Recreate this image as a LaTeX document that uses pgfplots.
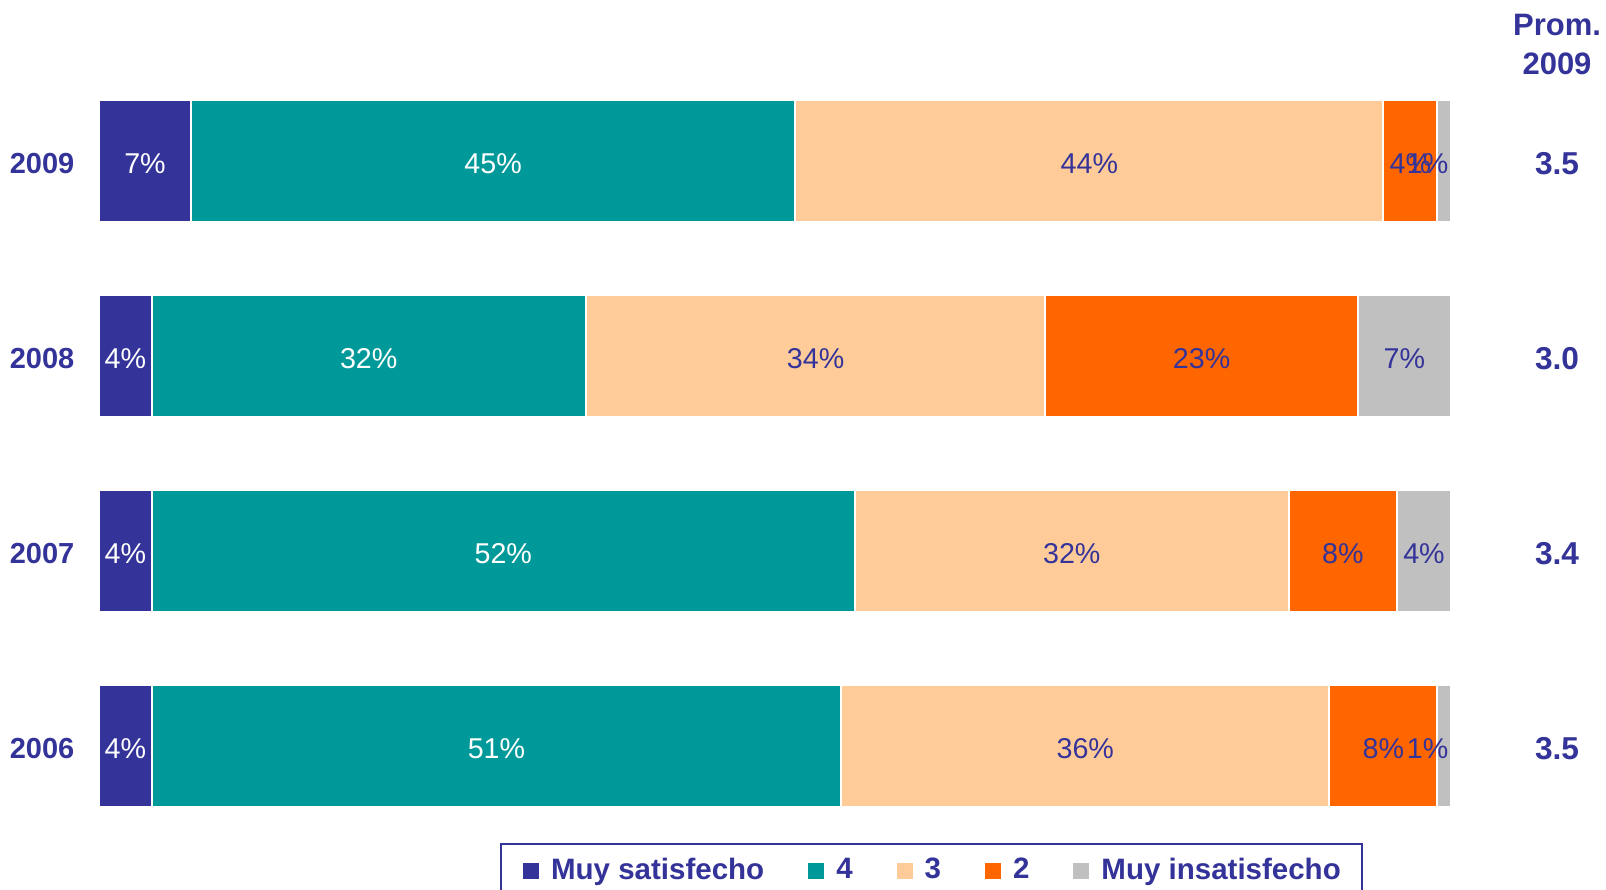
\documentclass[border=0pt]{standalone}
\usepackage{pgfplots}
\pgfplotsset{compat=1.18}
\usepackage{pgfplotstable}
\usepackage{fontspec}
\setmainfont{Liberation Sans}
\definecolor{c1}{HTML}{333399}
\definecolor{c2}{HTML}{009999}
\definecolor{c3}{HTML}{FFCC99}
\definecolor{c4}{HTML}{FF6600}
\definecolor{c5}{HTML}{C0C0C0}
\pgfplotstableread{
y v l
0 3.9 4
1 3.9 4
2 3.9 4
3 6.8 7
}\tA
\pgfplotstableread{
y v l
0 51.0 51
1 52.0 52
2 32.1 32
3 44.7 45
}\tB
\pgfplotstableread{
y v l
0 36.1 36
1 32.1 32
2 34.0 34
3 43.5 44
}\tC
\pgfplotstableread{
y v l
0 8.0 8
1 8.0 8
2 23.1 23
3 4.0 4
}\tD
\pgfplotstableread{
y v l
0 1.0 \kern-10pt1
1 4.0 4
2 6.9 7
3 1.0 \kern-10pt1
}\tE
\begin{document}
\begin{tikzpicture}
\useasboundingbox (0,0) rectangle (481.8pt,267pt);
\begin{axis}[
 at={(29.7pt,13.95pt)}, anchor=south west,
 scale only axis, width=405.6pt, height=234pt,
 xmin=0, xmax=100, ymin=-0.5, ymax=3.5,
 xbar stacked, bar width=0.626,
 axis line style={draw=none}, tick style={draw=none}, xtick=\empty,
 ytick={0,1,2,3}, yticklabels={2006,2007,2008,2009},
 yticklabel style={font=\fontsize{8.7pt}{10pt}\selectfont\bfseries, text=c1, inner sep=0pt, xshift=-7.2pt, yshift=-0.7pt},
 clip=false,
 nodes near coords={\pgfplotspointmeta\%},
 point meta=explicit symbolic,
 every node near coord/.append style={font=\fontsize{8.6pt}{10pt}\selectfont, text=c1, yshift=-0.7pt},
 legend columns=5,
 legend style={at={(0.6161,0)}, anchor=north, draw=c1, line width=0.6pt,
   font=\fontsize{8.85pt}{11pt}\selectfont\bfseries, text=c1,
   inner xsep=6.5pt, inner ysep=4pt,
   nodes={inner sep=0pt},
   /tikz/every odd column/.append style={column sep=3.6pt},
   /tikz/every even column/.append style={column sep=13.2pt}},
 legend image code/.code={\fill[#1,draw=none] (0pt,-2.4pt) rectangle (4.8pt,2.4pt);},
]
\addplot[fill=c1, draw=white, line width=0.6pt, every node near coord/.append style={text=white}] table[x=v,y=y,meta=l]{\tA};
\addlegendentry{Muy satisfecho}
\addplot[fill=c2, draw=white, line width=0.6pt, every node near coord/.append style={text=white}] table[x=v,y=y,meta=l]{\tB};
\addlegendentry{4}
\addplot[fill=c3, draw=white, line width=0.6pt] table[x=v,y=y,meta=l]{\tC};
\addlegendentry{3}
\addplot[fill=c4, draw=white, line width=0.6pt] table[x=v,y=y,meta=l]{\tD};
\addlegendentry{2}
\addplot[fill=c5, draw=white, line width=0.6pt] table[x=v,y=y,meta=l]{\tE};
\addlegendentry{Muy insatisfecho}
\node[font=\fontsize{9.3pt}{11.7pt}\selectfont\bfseries, text=c1, align=center] at (axis cs:107.84,3.6) {Prom.\\2009};
\node[font=\fontsize{9.5pt}{11pt}\selectfont\bfseries, text=c1, yshift=-0.7pt] at (axis cs:107.84,3) {3.5};
\node[font=\fontsize{9.5pt}{11pt}\selectfont\bfseries, text=c1, yshift=-0.7pt] at (axis cs:107.84,2) {3.0};
\node[font=\fontsize{9.5pt}{11pt}\selectfont\bfseries, text=c1, yshift=-0.7pt] at (axis cs:107.84,1) {3.4};
\node[font=\fontsize{9.5pt}{11pt}\selectfont\bfseries, text=c1, yshift=-0.7pt] at (axis cs:107.84,0) {3.5};
\end{axis}
\end{tikzpicture}
\end{document}
